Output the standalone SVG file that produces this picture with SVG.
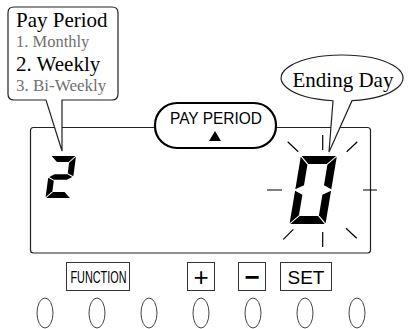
<svg xmlns="http://www.w3.org/2000/svg" width="409" height="329" viewBox="0 0 409 329">
<style>
.ln{fill:none;stroke:#222;stroke-width:1.2}
.wf{fill:#fff;stroke:#222;stroke-width:1.2}
.serif{font-family:"Liberation Serif","Times New Roman",serif;fill:#000}
.gray{fill:#707070}
.sans{font-family:"Liberation Sans",Arial,sans-serif;fill:#000}
.seg{fill:#000}
.spk{stroke:#000;stroke-width:1.2;fill:none}
.btn{fill:#fff;stroke:#333;stroke-width:1}
.oval{fill:#fff;stroke:#444;stroke-width:1}
</style>
<rect width="409" height="329" fill="#fff"/>
<g id="display">
  <rect class="ln" x="30.5" y="127.5" width="340" height="125.5" rx="3"/>
</g>
<g id="pay-period-indicator">
  <rect x="155" y="103" width="121" height="45" rx="22" ry="22" fill="#fff" stroke="#000" stroke-width="2.2"/>
  <text class="sans" x="216" y="123.5" font-size="16.5" text-anchor="middle" textLength="92" lengthAdjust="spacingAndGlyphs">PAY PERIOD</text>
  <polygon points="209,141 221,141 215,131" fill="#000"/>
</g>
<g id="digit-2" transform="translate(45.5,198) skewX(-7.5)">
  <polygon class="seg" points="0.7,-42 24.3,-42 18.3,-36 6.7,-36"/>
  <polygon class="seg" points="25,-41.3 25,-21.7 19,-24.7 19,-35.3"/>
  <polygon class="seg" points="1,-21 6,-23.7 19,-23.7 24,-21 19,-18.3 6,-18.3"/>
  <polygon class="seg" points="0,-20.3 0,-0.7 6,-6.7 6,-17.3"/>
  <polygon class="seg" points="0.7,0 24.3,0 18.3,-6 6.7,-6"/>
</g>
<g id="digit-0" transform="translate(289.5,224) skewX(-9.5)">
  <polygon class="seg" points="0.8,-68 35.2,-68 27.2,-60 8.8,-60"/>
  <polygon class="seg" points="36,-67.2 36,-34.8 28,-38.8 28,-59.2"/>
  <polygon class="seg" points="36,-33.2 36,-0.8 28,-8.8 28,-29.2"/>
  <polygon class="seg" points="0.8,0 35.2,0 27.2,-8 8.8,-8"/>
  <polygon class="seg" points="0,-33.2 0,-0.8 8,-8.8 8,-29.2"/>
  <polygon class="seg" points="0,-67.2 0,-34.8 8,-38.8 8,-59.2"/>
</g>
<g id="blink-marks">
  <line class="spk" x1="322.7" y1="135" x2="322.7" y2="150"/>
  <line class="spk" x1="322.7" y1="232" x2="322.7" y2="247"/>
  <line x1="267" y1="190" x2="282" y2="190" stroke="#000" stroke-width="1"/>
  <line x1="363" y1="190" x2="377" y2="190" stroke="#000" stroke-width="1"/>
  <line class="spk" x1="287.7" y1="141.7" x2="298.3" y2="151.7"/>
  <line class="spk" x1="346.7" y1="151.7" x2="357.3" y2="141.7"/>
  <line class="spk" x1="283.3" y1="239.3" x2="293.3" y2="229.3"/>
  <line class="spk" x1="346" y1="228.3" x2="356.7" y2="238.3"/>
</g>
<g id="callout-pay-period">
  <path class="wf" d="M62,100 L112,100 Q118,100 118,94 L118,13 Q118,7 112,7 L14,7 Q8,7 8,13 L8,94 Q8,100 14,100 L46,100 L62,151 Z"/>
  <text class="serif" x="16" y="27" font-size="21">Pay Period</text>
  <text class="serif gray" x="16" y="47" font-size="16.5">1. Monthly</text>
  <text class="serif" x="16" y="71" font-size="21">2. Weekly</text>
  <text class="serif gray" x="16" y="91" font-size="17">3. Bi-Weekly</text>
</g>
<g id="callout-ending-day">
  <path class="wf" d="M352,100.7 A61,23 0 1 0 333,100.75 L329,152 Z"/>
  <text class="serif" x="343" y="86.5" font-size="21" text-anchor="middle">Ending Day</text>
</g>
<g id="buttons">
  <g id="btn-function">
    <rect class="btn" x="66.5" y="262.5" width="63" height="28"/>
    <text class="sans" x="98.5" y="283" font-size="17" text-anchor="middle" textLength="56" lengthAdjust="spacingAndGlyphs">FUNCTION</text>
  </g>
  <g id="btn-plus">
    <rect class="btn" x="187.5" y="262.5" width="27" height="28"/>
    <text class="sans" x="201" y="285.5" font-size="26" text-anchor="middle">+</text>
  </g>
  <g id="btn-minus">
    <rect class="btn" x="238.5" y="262.5" width="27" height="28"/>
    <text class="sans" x="252" y="285.5" font-size="26" font-weight="bold" text-anchor="middle">−</text>
  </g>
  <g id="btn-set">
    <rect class="btn" x="280.5" y="262.5" width="51" height="28"/>
    <text class="sans" x="306" y="283.5" font-size="19" text-anchor="middle">SET</text>
  </g>
</g>
<g id="keys">
  <ellipse class="oval" cx="45" cy="313" rx="8" ry="15"/>
  <ellipse class="oval" cx="97" cy="313" rx="8" ry="15"/>
  <ellipse class="oval" cx="149" cy="313" rx="8" ry="15"/>
  <ellipse class="oval" cx="201" cy="313" rx="8" ry="15"/>
  <ellipse class="oval" cx="253" cy="313" rx="8" ry="15"/>
  <ellipse class="oval" cx="305" cy="313" rx="8" ry="15"/>
  <ellipse class="oval" cx="357" cy="313" rx="8" ry="15"/>
</g>
</svg>
